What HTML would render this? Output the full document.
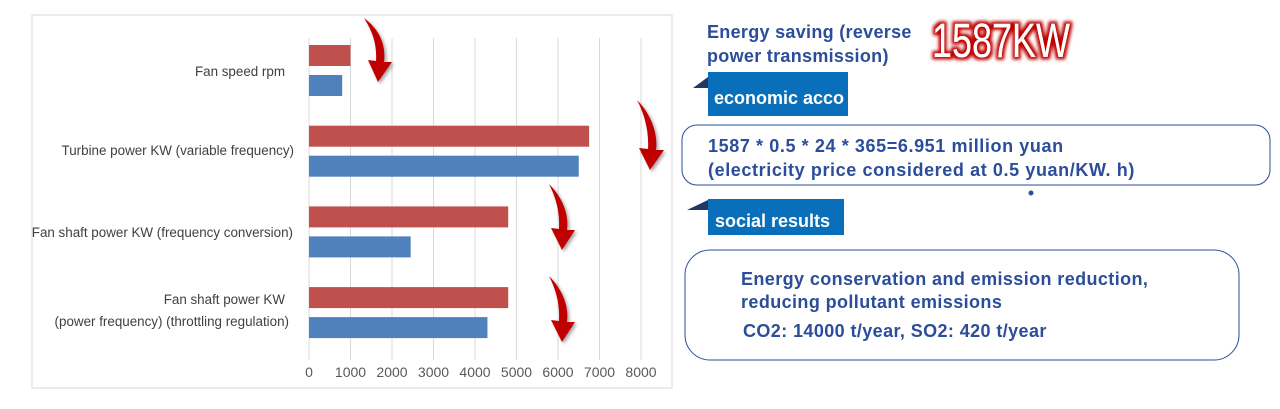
<!DOCTYPE html>
<html><head><meta charset="utf-8"><style>
body{margin:0;background:#fff;width:1280px;height:404px;overflow:hidden;font-family:"Liberation Sans",sans-serif}
</style></head><body>
<svg width="1280" height="404" xmlns="http://www.w3.org/2000/svg">
<defs>
<filter id="glow" x="-20%" y="-30%" width="140%" height="160%"><feMorphology operator="dilate" radius="2.5" in="SourceAlpha" result="d"/><feGaussianBlur in="d" stdDeviation="1.5" result="b"/><feFlood flood-color="#c00000"/><feComposite in2="b" operator="in" result="r"/><feMerge><feMergeNode in="r"/><feMergeNode in="SourceGraphic"/></feMerge></filter>
<filter id="sh"><feDropShadow dx="2" dy="2" stdDeviation="1.5" flood-color="#000" flood-opacity="0.35"/></filter>
</defs>
<rect x="32" y="15" width="640" height="373" fill="#fff" stroke="#d9d9d9"/>
<g id="grid"></g>
<g id="bars"></g>
<g id="ticks" font-size="14" fill="#595959" text-anchor="middle"></g>
<g font-size="13.4" fill="#404040" text-anchor="end">
<text x="285" y="76">Fan speed rpm</text>
<text x="294" y="155">Turbine power KW (variable frequency)</text>
<text x="293" y="237">Fan shaft power KW (frequency conversion)</text>
<text x="285" y="304">Fan shaft power KW</text>
<text x="289" y="326">(power frequency) (throttling regulation)</text>
</g>
<g fill="#c00000" filter="url(#sh)">
<path d="M364 18 C380 30 386 45 384 62 L392 62 L378 82 L368 60 L376 61 C377 45 373 32 364 18Z"/>
<path d="M637 100 C652 115 658 135 656 150 L664 150 L650 170 L639 148 L648 149 C649 132 645 115 637 100Z"/>
<path d="M549 184 C563 198 569 215 567 230 L575 230 L562 250 L551 228 L559 229 C560 212 556 198 549 184Z"/>
<path d="M549 276 C563 290 569 307 567 322 L575 322 L562 342 L551 320 L559 321 C560 304 556 290 549 276Z"/>
</g>
<g fill="#2b4d9a" font-size="18" font-weight="bold" letter-spacing="0.3">
<text x="707" y="38">Energy saving (reverse</text>
<text x="707" y="62">power transmission)</text>
</g>
<text x="932" y="57" font-size="48" fill="#fff" font-family="Liberation Sans Narrow,Liberation Sans,sans-serif" textLength="138" lengthAdjust="spacingAndGlyphs" filter="url(#glow)">1587KW</text>
<path d="M693 88 L708 77 L708 88Z" fill="#1f3864"/>
<rect x="708" y="72" width="140" height="44" fill="#0a6fba"/>
<text x="714" y="104" font-size="18" font-weight="bold" fill="#fff">economic acco</text>
<rect x="682" y="125" width="588" height="60" rx="15" fill="#fff" stroke="#2b4d9a"/>
<g fill="#2b4d9a" font-size="18" font-weight="bold" letter-spacing="0.6">
<text x="708" y="152">1587 * 0.5 * 24 * 365=6.951 million yuan</text>
<text x="708" y="176">(electricity price considered at 0.5 yuan/KW. h)</text>
</g>
<circle cx="1031" cy="193" r="2.5" fill="#2b4d9a"/>
<path d="M687 210 L708 200 L708 210Z" fill="#1f3864"/>
<rect x="708" y="199" width="136" height="36" fill="#0a6fba"/>
<text x="715" y="227" font-size="18" font-weight="bold" fill="#fff">social results</text>
<rect x="685" y="250" width="554" height="110" rx="25" fill="#fff" stroke="#2b4d9a"/>
<g fill="#2b4d9a" font-size="18" font-weight="bold" letter-spacing="0.4">
<text x="741" y="285">Energy conservation and emission reduction,</text>
<text x="741" y="308">reducing pollutant emissions</text>
<text x="743" y="337">CO2: 14000 t/year, SO2: 420 t/year</text>
</g>
</svg>
<script>
const categories=["Fan speed rpm","Turbine power KW (variable frequency)","Fan shaft power KW (frequency conversion)","Fan shaft power KW (power frequency) (throttling regulation)"];
const redValues=[1000,6750,4800,4800];
const blueValues=[800,6500,2450,4300];
const tickValues=[0,1000,2000,3000,4000,5000,6000,7000,8000];
const NS="http://www.w3.org/2000/svg";
const x0=309,pxPer=41.5/1000;
function xs(v){return x0+v*pxPer;}
function catY(i){return 45+i*80.7;}
const grid=document.getElementById('grid'),bars=document.getElementById('bars'),ticks=document.getElementById('ticks');
tickValues.forEach(t=>{
 const l=document.createElementNS(NS,'line');
 l.setAttribute('x1',xs(t));l.setAttribute('x2',xs(t));l.setAttribute('y1',38);l.setAttribute('y2',360);
 l.setAttribute('stroke','#d9d9d9');
 
 
 grid.appendChild(l);
 const tx=document.createElementNS(NS,'text');
 tx.setAttribute('x',xs(t));tx.setAttribute('y',377);tx.textContent=t;
 
 
 ticks.appendChild(tx);
});
categories.forEach((c,i)=>{
 const y=catY(i);
 const r=document.createElementNS(NS,'rect');
 r.setAttribute('x',x0);r.setAttribute('y',y);r.setAttribute('width',xs(redValues[i])-x0);r.setAttribute('height',21);r.setAttribute('fill','#c0504d');
 
 
 bars.appendChild(r);
 const b=document.createElementNS(NS,'rect');
 b.setAttribute('x',x0);b.setAttribute('y',y+30);b.setAttribute('width',xs(blueValues[i])-x0);b.setAttribute('height',21);b.setAttribute('fill','#4f81bd');
 
 
 bars.appendChild(b);
});
</script>
</body></html>
